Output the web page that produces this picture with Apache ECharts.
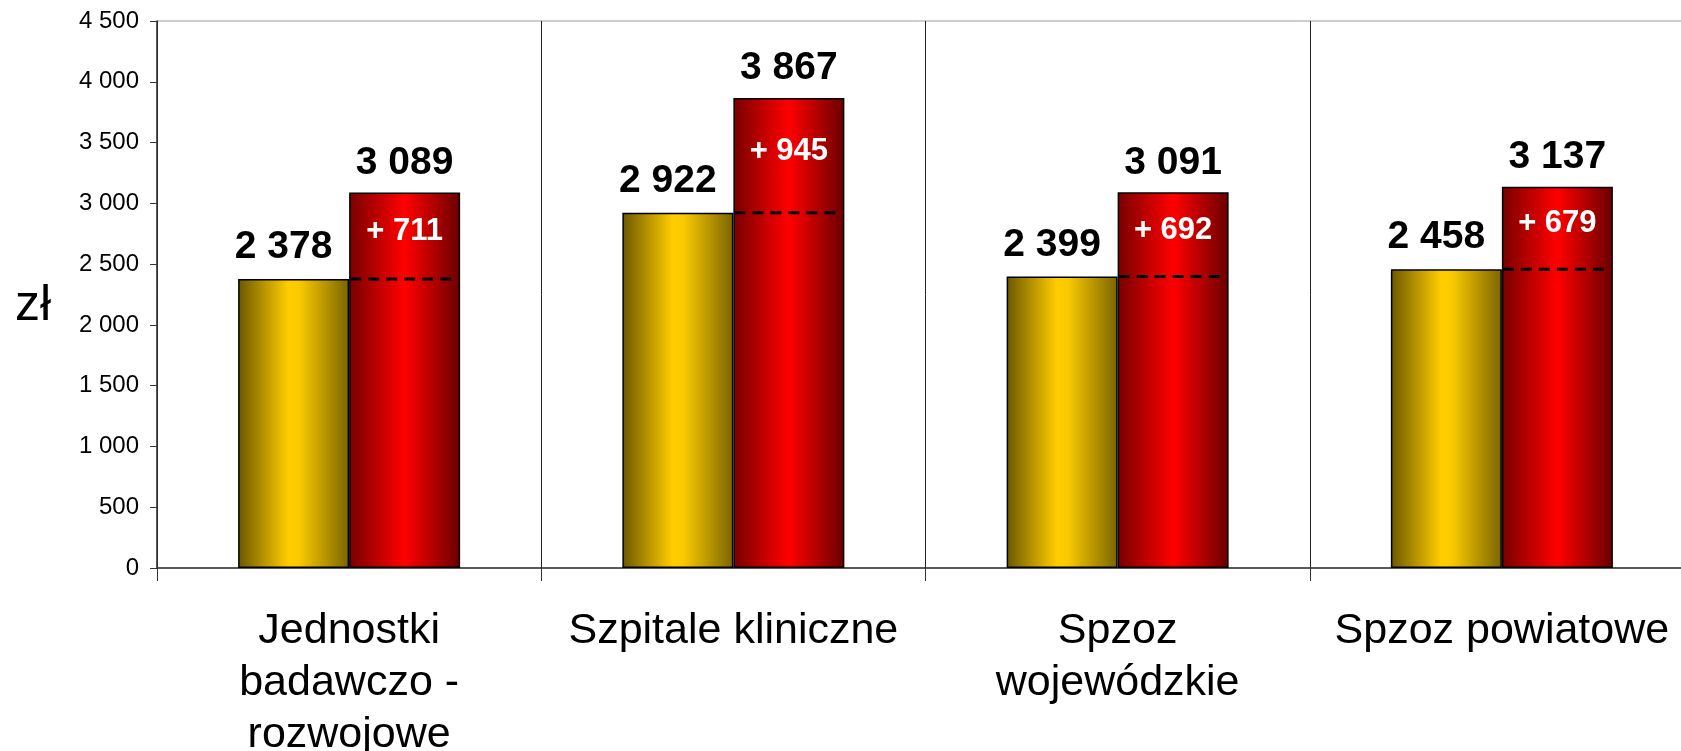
<!DOCTYPE html>
<html>
<head>
<meta charset="utf-8">
<script src="https://cdn.jsdelivr.net/npm/echarts@6/dist/echarts.min.js"></script>
<style>
html,body{margin:0;padding:0;background:#fff;}
#chart{width:1681px;height:751px;}
</style>
</head>
<body>
<div id="chart"></div>
<script>
// ---- data ----
const categories = ["Jednostki\nbadawczo -\nrozwojowe", "Szpitale kliniczne", "Spzoz\nwojewódzkie", "Spzoz powiatowe"];
const baseValues = [2378, 2922, 2399, 2458];
const newValues = [3089, 3867, 3091, 3137];
const diffValues = [711, 945, 692, 679];
const yTicks = { min: 0, max: 4500, interval: 500 };
const yName = "zł";

// ---- styling ----
const FONT = "'Liberation Sans', Arial, sans-serif";
const BAR_W = 111;
const fmt = v => String(v).replace(/\B(?=(\d{3})+(?!\d))/g, " ");

const yellowGrad = new echarts.graphic.LinearGradient(0, 0, 1, 0, [
  { offset: 0, color: '#6b5800' },
  { offset: 0.45, color: '#FFCC00' },
  { offset: 0.55, color: '#FACA00' },
  { offset: 1, color: '#7a6400' }
]);
const redGrad = new echarts.graphic.LinearGradient(0, 0, 1, 0, [
  { offset: 0, color: '#780000' },
  { offset: 0.5, color: '#FF0000' },
  { offset: 1, color: '#6a0000' }
]);

const chart = echarts.init(document.getElementById('chart'), null, { renderer: 'canvas' });

const option = {
  animation: false,
  backgroundColor: '#ffffff',
  grid: {
    left: 157, top: 21, bottom: 183, right: -13,
    containLabel: false, outerBoundsMode: 'none',
    show: true, borderColor: '#999', borderWidth: 1, backgroundColor: 'transparent'
  },
  xAxis: {
    type: 'category',
    data: categories,
    axisLine: { lineStyle: { color: '#333', width: 1.5 } },
    axisTick: { show: true, length: 13, lineStyle: { color: '#333', width: 1 } },
    splitLine: { show: true, lineStyle: { color: '#222', width: 1 } },
    axisLabel: {
      interval: 0, hideOverlap: false, margin: 37,
      fontFamily: FONT, fontSize: 43, color: '#000', lineHeight: 52
    }
  },
  yAxis: {
    type: 'value',
    min: yTicks.min, max: yTicks.max, interval: yTicks.interval,
    name: yName, nameLocation: 'middle', nameRotate: 0, nameGap: 106,
    nameTextStyle: { fontFamily: FONT, fontSize: 50, color: '#000', lineHeight: 24, verticalAlign: 'top' },
    axisLine: { show: true, lineStyle: { color: '#333', width: 1.5 } },
    axisTick: { show: true, length: 7, lineStyle: { color: '#333' } },
    splitLine: { show: false },
    axisLabel: {
      margin: 18, fontFamily: FONT, fontSize: 24, color: '#000',
      formatter: v => fmt(v)
    }
  },
  series: [
    {
      name: 'base', type: 'bar', data: baseValues, barWidth: BAR_W, barGap: '0%',
      itemStyle: { color: yellowGrad, borderColor: '#000', borderWidth: 1.5 },
      label: {
        show: true, position: 'top', distance: 12, offset: [-10, 0],
        fontFamily: FONT, fontSize: 39, fontWeight: 'bold', color: '#000',
        formatter: p => fmt(p.value)
      }
    },
    {
      name: 'new', type: 'bar', data: newValues, barWidth: BAR_W, barGap: '0%',
      itemStyle: { color: redGrad, borderColor: '#000', borderWidth: 1.5 },
      label: {
        show: true, position: 'top', distance: 10,
        fontFamily: FONT, fontSize: 39, fontWeight: 'bold', color: '#000',
        formatter: p => fmt(p.value)
      }
    },
    {
      name: 'diff', type: 'custom', z: 5,
      data: categories.map((c, i) => [i, baseValues[i], newValues[i], diffValues[i]]),
      renderItem: function (params, api) {
        const base = api.coord([api.value(0), api.value(1)]);
        const mid = api.coord([api.value(0), (api.value(1) + api.value(2)) / 2]);
        const x0 = base[0];
        return {
          type: 'group',
          children: [
            {
              type: 'line',
              shape: { x1: x0 + 1, y1: base[1], x2: x0 + BAR_W - 3, y2: base[1] },
              style: { stroke: '#000', lineWidth: 3, lineDash: [11, 7] }
            },
            {
              type: 'text',
              style: {
                x: x0 + BAR_W / 2, y: mid[1] - 4,
                text: '+ ' + fmt(api.value(3)),
                fill: '#fff', font: 'bold 31px ' + FONT,
                textAlign: 'center', textVerticalAlign: 'middle'
              }
            }
          ]
        };
      }
    }
  ]
};
chart.setOption(option);
</script>
</body>
</html>
